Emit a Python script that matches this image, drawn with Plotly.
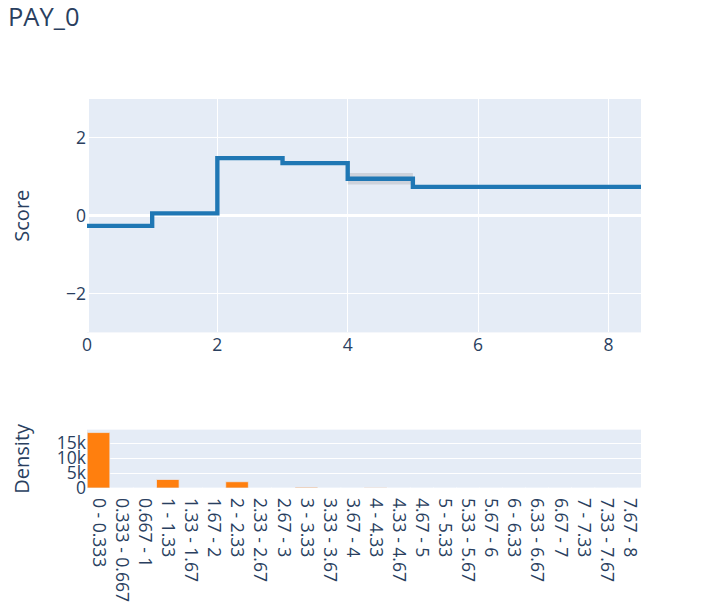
import numpy as np
import plotly.graph_objects as go
from plotly.subplots import make_subplots

# score curve (bin edges and per-bin score, last value repeated for the step end)
edges = [0, 1, 2, 3, 4, 5, 8.5]
scores = [-0.26, 0.06, 1.48, 1.35, 0.95, 0.74]
errors = [0.03, 0.03, 0.04, 0.04, 0.15, 0.05]

# density histogram
bin_labels = [
    '0 - 0.333', '0.333 - 0.667', '0.667 - 1', '1 - 1.33', '1.33 - 1.67', '1.67 - 2',
    '2 - 2.33', '2.33 - 2.67', '2.67 - 3', '3 - 3.33', '3.33 - 3.67', '3.67 - 4',
    '4 - 4.33', '4.33 - 4.67', '4.67 - 5', '5 - 5.33', '5.33 - 5.67', '5.67 - 6',
    '6 - 6.33', '6.33 - 6.67', '6.67 - 7', '7 - 7.33', '7.33 - 7.67', '7.67 - 8',
]
counts = [18600, 0, 0, 2850, 0, 0, 2100, 0, 0, 260, 0, 0,
          60, 0, 0, 20, 0, 0, 9, 0, 0, 7, 0, 15]

s = 1.45  # picture scale

y = np.r_[scores, scores[-1]]
err = np.r_[errors, errors[-1]]

fig = make_subplots(rows=2, cols=1, shared_xaxes=False)

fig.add_trace(go.Scatter(
    x=edges, y=y - err, mode='lines', name='Lower Bound',
    line=dict(width=0, shape='hv'), marker=dict(color='#444'),
), 1, 1)
fig.add_trace(go.Scatter(
    x=edges, y=y + err, mode='lines', name='Upper Bound',
    line=dict(width=0, shape='hv'), marker=dict(color='#444'),
    fill='tonexty', fillcolor='rgba(68, 68, 68, 0.15)',
), 1, 1)
fig.add_trace(go.Scatter(
    x=edges, y=y, mode='lines', name='Main',
    line=dict(color='rgb(31, 119, 180)', width=3 * s, shape='hv'),
), 1, 1)

fig.add_trace(go.Bar(
    x=bin_labels, y=counts, name='Density',
    marker=dict(color='#ff7f0e', line=dict(color='#E5ECF6', width=0.5 * s)),
), 2, 1)

fig.update_layout(
    title=dict(text='PAY_0', x=0, xanchor='left', y=0.985, yanchor='middle',
               font=dict(size=25.5)),
    showlegend=False,
    font=dict(family='Open Sans', size=17.5),
    margin=dict(l=79, r=61, t=91, b=115),
    bargap=0.02,
)
fig.update_yaxes(domain=[0.4, 1.0], range=[-3, 3], dtick=2, automargin=False,
                 title=dict(text='Score', font=dict(size=20), standoff=32),
                 gridwidth=s, zerolinewidth=2 * s, row=1, col=1)
fig.update_xaxes(range=[0, 8.5], automargin=False, gridwidth=s, zerolinewidth=2 * s, row=1, col=1)
fig.update_yaxes(domain=[0.0, 0.15], automargin=False,
                 title=dict(text='Density', font=dict(size=20), standoff=22),
                 tickvals=[0, 5000, 10000, 15000], ticktext=['0', '5k', '10k', '15k'],
                 gridwidth=s, zerolinewidth=2 * s, row=2, col=1)
fig.update_xaxes(tickangle=90, automargin=False, ticklabelstandoff=9, row=2, col=1)

fig.write_html('out.html')
